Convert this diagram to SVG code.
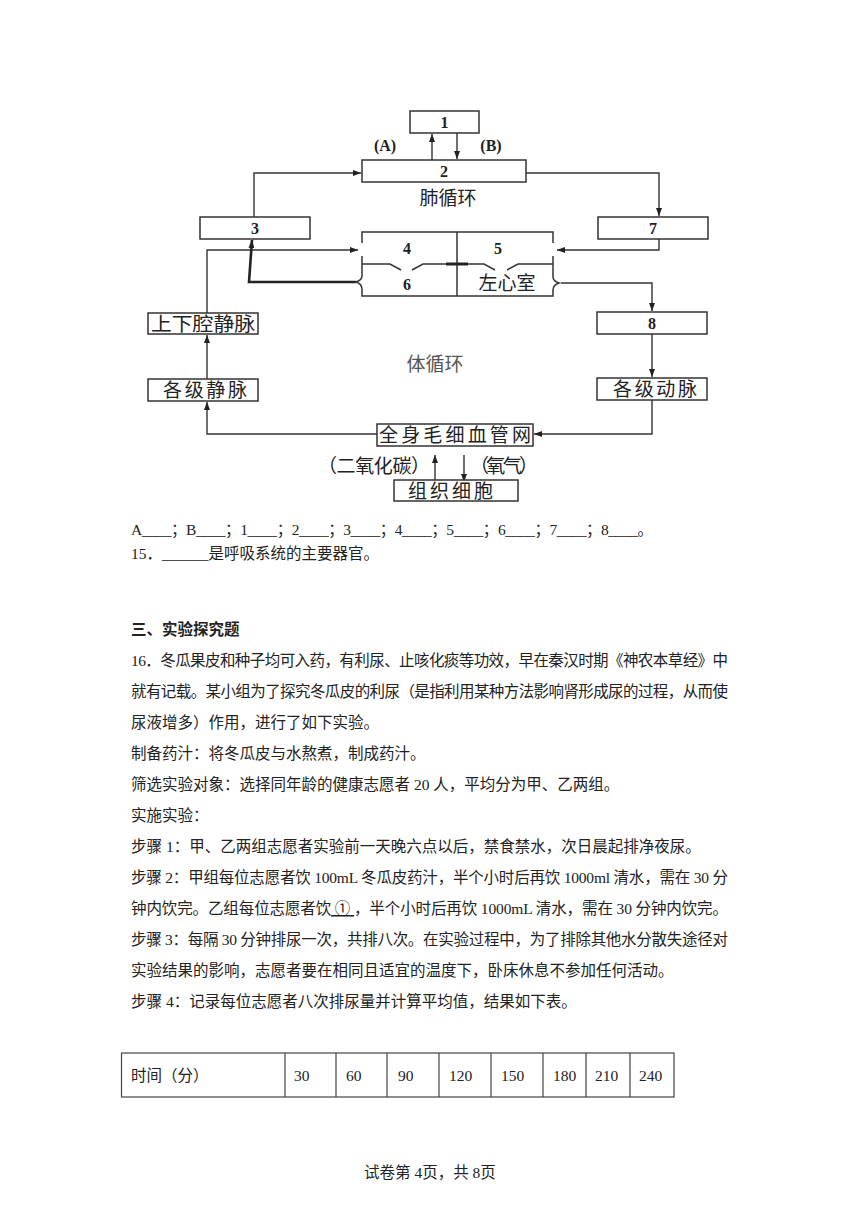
<svg xmlns="http://www.w3.org/2000/svg" width="860" height="1216" viewBox="0 0 860 1216">
<style>
.bx{fill:#fff;stroke:#333;stroke-width:1.5}
.num{font-family:"Liberation Serif","Noto Sans CJK SC",serif;font-weight:bold;font-size:16px;fill:#222;text-anchor:middle}
.lab{font-family:"Noto Sans CJK SC",sans-serif;font-size:19px;fill:#222}
.ln{fill:none;stroke:#333;stroke-width:1.4}
.hw{fill:none;stroke:#333;stroke-width:1.5}
.body{font-family:"Liberation Serif","Noto Sans CJK SC",serif;font-size:15.5px;fill:#222}
.tb{fill:none;stroke:#444;stroke-width:1.2}
</style>
<defs>
<marker id="ah" markerUnits="userSpaceOnUse" markerWidth="8" markerHeight="6" refX="8" refY="3" orient="auto">
<path d="M0,0 L8,3 L0,6 z" fill="#222"/>
</marker>
</defs>
<rect width="860" height="1216" fill="#fff"/>

<g id="connectors">
<line class="ln" x1="432" y1="160" x2="432" y2="134" marker-end="url(#ah)"/>
<line class="ln" x1="457" y1="133" x2="457" y2="159" marker-end="url(#ah)"/>
<path class="ln" d="M254 217 V173 H361" marker-end="url(#ah)"/>
<path class="ln" d="M526 173 H659 V216" marker-end="url(#ah)"/>
<path class="ln" d="M659 239 V250 H557" marker-end="url(#ah)"/>
<path class="ln" d="M207 313 V250 H358" marker-end="url(#ah)"/>
<path fill="none" stroke="#222" stroke-width="2.6" d="M356 282 H249 L252 240" marker-end="url(#ah)"/>
<path class="ln" d="M561 283 H652 V311" marker-end="url(#ah)"/>
<line class="ln" x1="652" y1="334" x2="652" y2="377" marker-end="url(#ah)"/>
<path class="ln" d="M652 400 V434 H534" marker-end="url(#ah)"/>
<path class="ln" d="M377 434 H207 V402" marker-end="url(#ah)"/>
<line class="ln" x1="207" y1="379" x2="207" y2="335" marker-end="url(#ah)"/>
<line class="ln" x1="435" y1="482" x2="435" y2="455" marker-end="url(#ah)"/>
<line class="ln" x1="464" y1="455" x2="464" y2="482" marker-end="url(#ah)"/>
</g>

<g id="n1"><rect class="bx" x="410" y="111" width="69" height="22"/><text class="num" x="444.5" y="128">1</text></g>
<g id="labA"><text class="num" x="385" y="151" font-size="15">(A)</text></g>
<g id="labB"><text class="num" x="491" y="151" font-size="15">(B)</text></g>
<g id="n2"><rect class="bx" x="362" y="160" width="164" height="22"/><text class="num" x="444" y="177">2</text></g>
<g id="pulm"><text class="lab" x="448" y="205" text-anchor="middle">肺循环</text></g>
<g id="n3"><rect class="bx" x="200" y="217" width="110" height="22"/><text class="num" x="255" y="234">3</text></g>
<g id="n7"><rect class="bx" x="598" y="217" width="110" height="22"/><text class="num" x="653" y="234">7</text></g>

<g id="heart">
<path class="hw" d="M362 243 V232 H553 V243"/>
<path class="hw" d="M362 256 V276 Q362 280 356 282 Q362 284 362 289 V296 H553 V290 Q553 285 559 283 Q553 281 553 277 V256"/>
<line class="hw" x1="457" y1="232" x2="457" y2="296"/>
<path class="hw" d="M362 264 H390 L401 270 M412 270 L423 264 H457 H484 L495 270 M507 270 L518 264 H553"/>
<line x1="446" y1="264" x2="468" y2="264" stroke="#222" stroke-width="3"/>
<text class="num" x="407" y="254" font-weight="normal" font-size="18">4</text>
<text class="num" x="498" y="254" font-weight="normal" font-size="18">5</text>
<text class="num" x="407" y="290" font-weight="normal" font-size="18">6</text>
<text class="lab" x="507" y="290" text-anchor="middle">左心室</text>
</g>

<g id="n8"><rect class="bx" x="597" y="312" width="110" height="22"/><text class="num" x="652" y="329">8</text></g>
<g id="vc"><rect class="bx" x="148" y="313" width="110" height="21"/><text class="lab" x="151" y="331" font-size="20" textLength="104" lengthAdjust="spacingAndGlyphs">上下腔静脉</text></g>
<g id="sys"><text class="lab" x="435" y="371" text-anchor="middle" font-size="17" fill="#555" style="fill:#555">体循环</text></g>
<g id="veins"><rect class="bx" x="148" y="379" width="110" height="22"/><text class="lab" x="163" y="397" textLength="84">各级静脉</text></g>
<g id="arteries"><rect class="bx" x="597" y="378" width="110" height="22"/><text class="lab" x="613" y="396" textLength="84">各级动脉</text></g>
<g id="cap"><rect class="bx" x="377" y="424" width="156" height="22"/><text class="lab" x="379" y="442" font-size="20" textLength="152">全身毛细血管网</text></g>
<g id="co2"><text class="lab" x="318" y="473" font-size="18" textLength="112">（二氧化碳）</text></g>
<g id="o2"><text class="lab" x="470" y="473" font-size="18" textLength="68">（氧气）</text></g>
<g id="cells"><rect class="bx" x="394" y="480" width="124" height="21"/><text class="lab" x="408" y="498" textLength="85">组织细胞</text></g>

<g id="text">
<text class="body" x="131" y="535" textLength="522">A____；B____；1____；2____；3____；4____；5____；6____；7____；8____。</text>
<text class="body" x="131" y="559">15．______是呼吸系统的主要器官。</text>
<text class="body" x="131" y="635" font-weight="bold">三、实验探究题</text>
<text class="body" x="131" y="666" textLength="597">16．冬瓜果皮和种子均可入药，有利尿、止咳化痰等功效，早在秦汉时期《神农本草经》中</text>
<text class="body" x="131" y="697" textLength="597">就有记载。某小组为了探究冬瓜皮的利尿（是指利用某种方法影响肾形成尿的过程，从而使</text>
<text class="body" x="131" y="728">尿液增多）作用，进行了如下实验。</text>
<text class="body" x="131" y="759">制备药汁：将冬瓜皮与水熬煮，制成药汁。</text>
<text class="body" x="131" y="790">筛选实验对象：选择同年龄的健康志愿者 20 人，平均分为甲、乙两组。</text>
<text class="body" x="131" y="821">实施实验：</text>
<text class="body" x="131" y="852">步骤 1：甲、乙两组志愿者实验前一天晚六点以后，禁食禁水，次日晨起排净夜尿。</text>
<text class="body" x="131" y="883" textLength="597">步骤 2：甲组每位志愿者饮 100mL 冬瓜皮药汁，半个小时后再饮 1000ml 清水，需在 30 分</text>
<text class="body" x="131" y="914" textLength="597">钟内饮完。乙组每位志愿者饮<tspan text-decoration="underline"> ① </tspan>，半个小时后再饮 1000mL 清水，需在 30 分钟内饮完。</text>
<text class="body" x="131" y="945" textLength="597">步骤 3：每隔 30 分钟排尿一次，共排八次。在实验过程中，为了排除其他水分散失途径对</text>
<text class="body" x="131" y="976">实验结果的影响，志愿者要在相同且适宜的温度下，卧床休息不参加任何活动。</text>
<text class="body" x="131" y="1007">步骤 4：记录每位志愿者八次排尿量并计算平均值，结果如下表。</text>
<text class="body" x="430" y="1178" font-size="14" text-anchor="middle">试卷第 4页，共 8页</text>
</g>

<g id="table">
<rect class="tb" x="121.5" y="1053" width="552.5" height="44"/>
<path class="tb" d="M285 1053 V1097 M336 1053 V1097 M387 1053 V1097 M439 1053 V1097 M491 1053 V1097 M543 1053 V1097 M586 1053 V1097 M630 1053 V1097"/>
<text class="body" x="131" y="1081">时间（分）</text>
<text class="body" x="294" y="1081">30</text>
<text class="body" x="346" y="1081">60</text>
<text class="body" x="398" y="1081">90</text>
<text class="body" x="449" y="1081">120</text>
<text class="body" x="501" y="1081">150</text>
<text class="body" x="553" y="1081">180</text>
<text class="body" x="595" y="1081">210</text>
<text class="body" x="639" y="1081">240</text>
</g>
</svg>
